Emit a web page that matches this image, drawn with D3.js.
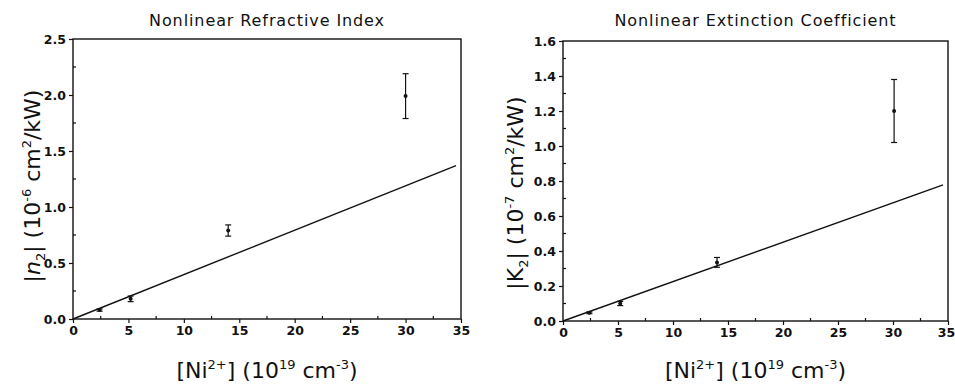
<!DOCTYPE html>
<html>
<head>
<meta charset="utf-8">
<script src="https://cdn.jsdelivr.net/npm/d3@7"></script>
<style>
  body { margin: 0; background: #fff; }
  svg text { font-family: "DejaVu Sans", Verdana, sans-serif; fill: #111; }
</style>
</head>
<body>
<div id="chart"></div>
<script>
const WIDTH = 955;
const HEIGHT = 386;

// data
const concentration = [2.4, 5.2, 14.0, 30.0];
const n2Values = [0.08, 0.18, 0.79, 1.99];
const n2Errors = [0.01, 0.025, 0.05, 0.2];
const k2Concentration = [2.4, 5.2, 14.0, 30.1];
const k2Values = [0.047, 0.1, 0.335, 1.2];
const k2Errors = [0.005, 0.012, 0.028, 0.18];
const fitX = [0, 34.55];
const n2Fit = [0, 1.37];
const k2Fit = [0, 0.778];
const xTicks = [0, 5, 10, 15, 20, 25, 30, 35];
const n2Ticks = [0.0, 0.5, 1.0, 1.5, 2.0, 2.5];
const k2Ticks = [0.0, 0.2, 0.4, 0.6, 0.8, 1.0, 1.2, 1.4, 1.6];

const svg = d3.select('#chart')
    .append('svg')
    .attr('width', WIDTH)
    .attr('height', HEIGHT);

function drawPanel(opts) {
    const { left, right, top, bottom } = opts.box;
    const x = d3.scaleLinear().domain([0, 35]).range([left, right]);
    const y = d3.scaleLinear().domain([0, opts.yMax]).range([bottom, top]);
    const g = svg.append('g');

    // frame
    g.append('rect')
        .attr('x', left).attr('y', top)
        .attr('width', right - left).attr('height', bottom - top)
        .attr('fill', 'none').attr('stroke', '#111').attr('stroke-width', 1.4);

    // major ticks outward
    const xAxis = g.append('g')
        .attr('transform', `translate(0,${bottom})`)
        .call(d3.axisBottom(x).tickValues(xTicks).tickFormat(d3.format('d')).tickSize(4).tickPadding(3));
    const yAxis = g.append('g')
        .attr('transform', `translate(${left},0)`)
        .call(d3.axisLeft(y).tickValues(opts.yTicks).tickFormat(d3.format('.1f')).tickSize(4).tickPadding(3));
    [xAxis, yAxis].forEach(a => {
        a.select('.domain').remove();
        a.selectAll('line').attr('stroke', '#111').attr('stroke-width', 1.2);
        a.selectAll('text')
            .style('font-family', '"DejaVu Sans", Verdana, sans-serif')
            .style('font-weight', 'bold')
            .style('font-size', '12.5px')
            .attr('fill', '#111');
    });
    // keep the last x label inside the page
    xAxis.selectAll('text').filter(d => d === 35).attr('dx', opts.lastDx || 0);

    // minor ticks inward
    const xMinor = d3.range(2.5, 35, 5);
    g.selectAll('.xminor').data(xMinor).enter().append('line')
        .attr('x1', d => x(d)).attr('x2', d => x(d))
        .attr('y1', bottom).attr('y2', bottom - 3)
        .attr('stroke', '#111').attr('stroke-width', 1.2);
    const step = opts.yTicks[1] - opts.yTicks[0];
    const yMinor = d3.range(step / 2, opts.yMax, step);
    g.selectAll('.yminor').data(yMinor).enter().append('line')
        .attr('x1', left).attr('x2', left + 3)
        .attr('y1', d => y(d)).attr('y2', d => y(d))
        .attr('stroke', '#111').attr('stroke-width', 1.2);

    // fit line
    const line = d3.line().x(d => x(d[0])).y(d => y(d[1]));
    g.append('path')
        .datum(fitX.map((v, i) => [v, opts.fit[i]]))
        .attr('d', line)
        .attr('fill', 'none').attr('stroke', '#111').attr('stroke-width', 1.4);

    // error bars and points
    const pts = opts.xs.map((v, i) => ({ x: v, y: opts.ys[i], e: opts.errs[i] }));
    const eb = g.selectAll('.eb').data(pts).enter().append('g');
    eb.append('line')
        .attr('x1', d => x(d.x)).attr('x2', d => x(d.x))
        .attr('y1', d => y(d.y - d.e)).attr('y2', d => y(d.y + d.e))
        .attr('stroke', '#111').attr('stroke-width', 1.2);
    eb.selectAll('.cap').data(d => [d.y - d.e, d.y + d.e].map(v => ({ x: d.x, v: v })))
        .enter().append('line')
        .attr('x1', d => x(d.x) - 3).attr('x2', d => x(d.x) + 3)
        .attr('y1', d => y(d.v)).attr('y2', d => y(d.v))
        .attr('stroke', '#111').attr('stroke-width', 1.2);
    eb.append('circle')
        .attr('cx', d => x(d.x)).attr('cy', d => y(d.y))
        .attr('r', 2).attr('fill', '#111');

    // title
    g.append('text')
        .attr('x', (left + right) / 2).attr('y', 26)
        .attr('text-anchor', 'middle')
        .style('font-size', '16px')
        .style('letter-spacing', '0.9px')
        .text(opts.title);

    // x label
    const xl = g.append('text')
        .attr('x', (left + right) / 2).attr('y', 378)
        .attr('text-anchor', 'middle')
        .style('font-size', '22px');
    xl.append('tspan').text('[Ni');
    xl.append('tspan').attr('dy', -9).style('font-size', '13px').text('2+');
    xl.append('tspan').attr('dy', 9).text('] (10');
    xl.append('tspan').attr('dy', -9).style('font-size', '13px').text('19');
    xl.append('tspan').attr('dy', 9).text(' cm');
    xl.append('tspan').attr('dy', -9).style('font-size', '13px').text('-3');
    xl.append('tspan').attr('dy', 9).text(')');

    // y label
    const yl = g.append('text')
        .attr('transform', `translate(${opts.yLabelX},${opts.yLabelY}) rotate(-90)`)
        .attr('text-anchor', 'middle')
        .style('font-size', '22px');
    yl.append('tspan').text('|');
    yl.append('tspan').style('font-style', opts.italic ? 'italic' : 'normal').text(opts.sym);
    yl.append('tspan').attr('dy', 5).style('font-size', '13px').text('2');
    yl.append('tspan').attr('dy', -5).text('| (10');
    yl.append('tspan').attr('dy', -9).style('font-size', '13px').text(opts.exp);
    yl.append('tspan').attr('dy', 9).text(' cm');
    yl.append('tspan').attr('dy', -9).style('font-size', '13px').text('2');
    yl.append('tspan').attr('dy', 9).text('/kW)');
}

drawPanel({
    box: { left: 73, right: 461, top: 39, bottom: 319 },
    yMax: 2.5, yTicks: n2Ticks,
    xs: concentration, ys: n2Values, errs: n2Errors, fit: n2Fit,
    title: 'Nonlinear Refractive Index',
    sym: 'n', italic: true, exp: '-6',
    yLabelX: 40, yLabelY: 186
});

drawPanel({
    box: { left: 563, right: 948, top: 41, bottom: 321 },
    yMax: 1.6, yTicks: k2Ticks,
    xs: k2Concentration, ys: k2Values, errs: k2Errors, fit: k2Fit,
    title: 'Nonlinear Extinction Coefficient',
    sym: 'K', italic: false, exp: '-7',
    yLabelX: 523, yLabelY: 193,
    lastDx: -2
});
</script>
</body>
</html>
